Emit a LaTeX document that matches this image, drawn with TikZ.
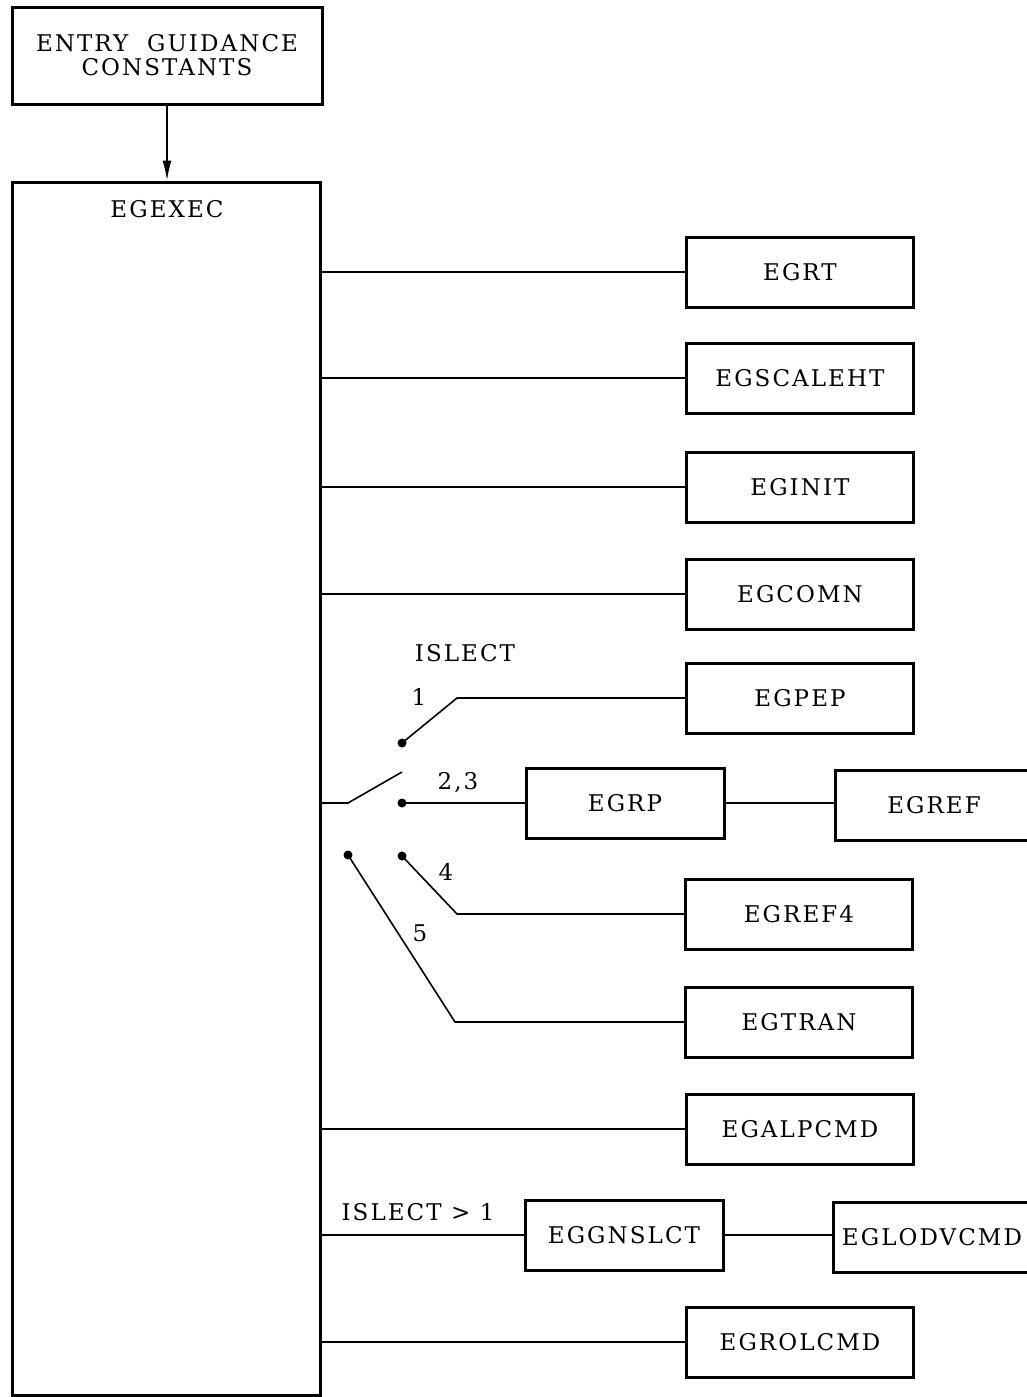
\documentclass[tikz,border=0pt]{standalone}
\usepackage{fontspec}
\setmainfont{DejaVu Serif}[LetterSpace=9]
\usetikzlibrary{arrows.meta}
\begin{document}
\begin{tikzpicture}[x=0.5pt,y=-0.5pt,
  every node/.style={font=\fontsize{11.5}{13}\selectfont},
  box/.style={draw,line width=1.5pt,minimum width=113.5pt,minimum height=35pt,inner sep=0pt},
  shortbox/.style={box,minimum width=99pt},
  wire/.style={line width=0.8pt},
  dot/.style={circle,fill,inner sep=0pt,minimum size=4.5pt}]
\clip (0,0) rectangle (1027,1397);
\node[box,minimum width=155pt,minimum height=48.5pt,align=center] (egc) at (167,55.5) {ENTRY\ \ GUIDANCE\\[-1pt]CONSTANTS};
\node[draw,line width=1.5pt,minimum width=154pt,minimum height=606.5pt,inner sep=0pt] (exec) at (166,788.5) {};
\node (execlbl) at (167,209) {EGEXEC};
\draw[wire,-{Latex[length=10pt,width=4.5pt]}] (egc.south) -- (exec.north -| egc.south);
\foreach \n/\t/\y in {rt/EGRT/272,scl/EGSCALEHT/378,init/EGINIT/487,comn/EGCOMN/594,alp/EGALPCMD/1129,rol/EGROLCMD/1342}{
\node[box] (\n) at (800,\y) {\t};
\draw[wire] (exec.east |- \n.west) -- (\n.west);
}
\node[box] (pep) at (800,698) {EGPEP};
\node[shortbox] (rp) at (625,803) {EGRP};
\node[shortbox] (ref) at (934,805) {EGREF};
\node[box] (ref4) at (799,914) {EGREF4};
\node[box] (tran) at (799,1022) {EGTRAN};
\node[shortbox] (gn) at (624,1235) {EGGNSLCT};
\node[shortbox] (lodv) at (932,1237) {EGLODVCMD};

\node[dot] (d1) at (402,743) {};
\node[dot] (d23) at (402,803) {};
\node[dot] (d4) at (402,856) {};
\node[dot] (d5) at (348,855) {};
\coordinate (piv) at (348,803);
\coordinate (blade) at (402,772);
\coordinate (k1) at (457,698);
\coordinate (k4) at (457,914);
\coordinate (k5) at (455,1022);
\draw[wire] (exec.east |- piv) -- (piv) -- (blade);
\draw[wire] (d1.center) -- (k1) -- (pep.west);
\draw[wire] (d23.center) -- (rp.west);
\draw[wire] (d4.center) -- (k4) -- (ref4.west);
\draw[wire] (d5.center) -- (k5) -- (tran.west);
\draw[wire] (rp.east) -- (rp.east -| ref.west);
\draw[wire] (exec.east |- gn.west) -- (gn.west);
\draw[wire] (gn.east) -- (gn.east -| lodv.west);

\node (isl) at (465,653) {ISLECT};
\node (l1) at (419,697) {1};
\node (l23) at (458,783) {2,3};
\node (l4) at (446,872) {4};
\node (l5) at (420,933) {5};
\node (islg) at (418,1212) {ISLECT > 1};
\end{tikzpicture}
\end{document}
